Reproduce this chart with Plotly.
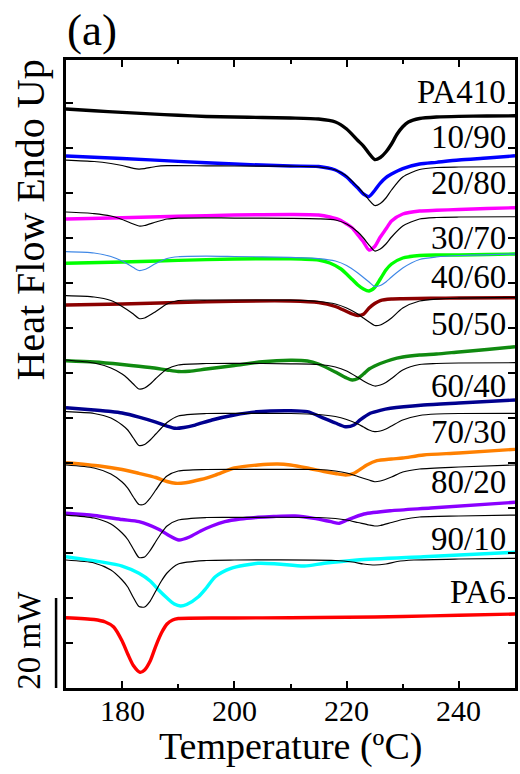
import plotly.graph_objects as go

# ---------------- data (heat flow in mW, vertically offset curves) ----------------
T_pa410 = [170,175,180,185,190,195,200,205,210,215,218,220,222,223,224,225,226,227,228,229,230,231,233,236,240,245,250]
Q_pa410 = [128.67,128.29,127.91,127.58,127.27,127.02,126.89,126.78,126.67,126.44,125.78,124.22,121.67,120.44,118.78,117.44,117.89,119.11,120.89,123.11,124.73,125.78,126.56,126.89,127.04,127.11,127.16]

T_1090 = [170,180,190,200,210,215,218,219,220,221,222,223,224,225,226,227,228,230,233,236,240,245,250]
Q_1090 = [118.22,117.67,117.04,116.44,116.0,115.89,115.11,114.44,113.56,112.33,111.11,109.78,109.22,110.56,112.22,113.44,114.22,115.44,116.44,116.82,117.33,117.78,118.27]
T_1090r = [170,175,178,180,182,183,184,186,188,195,200,210,215,218,220,222,223,224,225,226,227,228,230,233,236,240,250]
Q_1090r = [117.33,117.0,116.56,116.11,115.49,115.33,115.44,115.89,116.07,116.04,116.0,115.96,115.78,115.11,113.78,111.33,110.0,108.44,107.22,107.67,108.89,110.67,113.56,115.22,115.67,115.78,115.84]

T_2080 = [170,180,190,200,210,215,217,219,220,221,222,223,224,225,226,227,228,230,233,236,240,245,250]
Q_2080 = [104.22,104.51,104.84,105.11,105.22,105.11,104.67,103.89,103.11,102.22,100.67,99.11,97.33,98.11,100.22,102.0,103.78,105.33,106.0,106.16,106.33,106.56,106.73]
T_2080r = [170,175,178,180,182,183,184,186,188,190,195,200,210,215,218,220,222,223,224,225,226,227,228,230,233,236,240,250]
Q_2080r = [105.78,105.44,104.89,104.11,103.11,102.67,102.78,103.56,104.22,104.44,104.49,104.44,104.38,104.27,104.0,103.11,101.33,100.0,98.44,97.11,97.56,98.67,100.22,102.67,104.22,104.56,104.67,104.73]

T_3070 = [170,180,190,200,210,215,217,219,220,221,222,223,224,225,226,227,228,230,233,236,240,245,250]
Q_3070 = [94.38,94.67,95.02,95.33,95.38,95.11,94.44,93.11,92.0,90.78,89.56,88.67,88.22,89.0,90.89,92.89,94.22,95.56,96.11,96.22,96.22,96.33,96.44]
T_3070r = [170,175,178,180,182,183,184,186,188,190,195,200,210,215,218,220,222,223,224,225,226,227,228,230,233,236,240,250]
Q_3070r = [96.96,96.67,95.89,94.89,93.44,92.78,93.0,94.33,95.44,95.84,95.96,95.89,95.71,95.44,94.89,93.89,92.22,91.22,90.22,89.22,89.44,90.22,91.33,93.33,95.22,95.78,96.11,96.44]

T_4060 = [170,180,190,200,210,215,218,220,221,222,223,224,225,226,228,230,235,240,250]
Q_4060 = [85.11,85.33,85.67,85.96,86.0,85.67,84.78,83.67,83.11,82.78,83.04,84.44,85.44,86.11,86.44,86.51,86.6,86.67,86.73]
T_4060r = [170,175,178,180,182,183,184,186,188,190,195,200,210,215,218,220,222,223,224,225,226,227,228,230,233,236,240,250]
Q_4060r = [87.18,86.89,86.11,84.78,83.11,82.11,82.22,83.67,85.33,86.11,86.22,86.22,86.18,85.89,85.33,84.44,83.11,82.22,81.33,80.56,80.67,81.33,82.22,84.44,86.0,86.44,86.62,86.82]

T_5050 = [170,175,180,185,188,190,192,195,200,205,210,213,215,218,220,221,222,223,224,225,226,228,230,233,236,240,245,250]
Q_5050 = [72.73,72.44,71.89,71.22,70.67,70.33,70.38,70.89,71.67,72.51,72.82,72.67,72.0,70.22,68.89,68.44,68.78,69.78,70.89,71.56,72.11,73.0,73.56,74.0,74.22,74.67,75.22,75.84]
T_5050r = [170,175,178,180,181,182,183,184,185,186,188,190,195,200,210,215,218,220,222,223,224,225,226,227,228,230,233,236,240,250]
Q_5050r = [72.89,72.22,71.11,69.78,68.78,67.56,66.44,66.67,67.56,68.78,70.89,71.78,72.11,72.16,72.04,71.89,71.33,70.44,69.0,68.22,67.56,67.11,67.33,67.89,68.78,70.67,71.89,72.11,72.22,72.29]

T_6040 = [170,175,178,180,183,186,188,189.5,191,193,196,200,204,210,213,216,218,219.8,221.3,222.4,224.2,226,227.8,233.7,240,250]
Q_6040 = [62.29,61.78,61.44,61.11,60.22,59.11,58.22,57.71,57.89,58.44,59.56,60.67,61.38,61.62,61.4,59.93,58.89,58.07,58.44,59.56,61.04,61.71,62.16,62.89,63.33,64.0]
T_6040r = [170,175,178,180,181,182,183,184,185,186,187,188,190,195,200,210,215,218,220,222,223,224,225,226,227,228,230,233,236,240,250]
Q_6040r = [61.4,61.0,60.0,58.44,57.33,55.56,53.89,54.11,55.11,56.44,57.78,59.0,60.44,61.0,61.04,61.0,60.78,60.33,59.67,58.67,58.0,57.33,56.96,57.11,57.56,58.22,59.56,60.56,60.89,61.0,61.04]

T_7030 = [170,176,180,183,186,188,189.5,191.3,194,196.6,200,204.2,207.7,210,213,216,218,219.8,221.3,223.6,225.4,228,230,233.7,240,250]
Q_7030 = [50.07,49.33,48.56,47.71,46.78,45.89,45.49,45.62,46.33,47.33,48.89,49.56,49.78,49.56,48.89,48.11,47.67,47.33,47.71,49.56,50.51,50.89,51.11,51.78,52.22,53.04]
T_7030r = [170,175,178,180,181,182,183,184,185,186,187,188,190,195,200,210,215,218,220,222,224,225,226,228,230,233,240,250]
Q_7030r = [49.56,48.89,47.56,45.78,44.44,42.44,40.78,40.89,42.22,44.0,45.78,47.11,48.22,48.56,48.6,48.6,48.56,48.22,47.78,47.0,46.22,45.84,46.0,46.89,48.0,48.67,49.11,49.56]

T_8020 = [170,175,180,183,186.5,188.5,190.1,192,194,196,198.3,201,204.2,207,210.8,214.2,217.2,218.7,220.1,223.1,227.8,235,250]
Q_8020 = [38.82,38.33,37.44,36.96,35.27,33.78,32.89,33.56,34.89,36.0,36.96,37.56,37.93,38.11,38.22,37.71,36.96,36.6,37.33,38.67,39.4,40.0,41.27]
T_8020r = [170,175,178,180,181,182,183,184,185,186,187,188,190,195,200,215,218,220,222,224,225,226,228,230,233,240,250]
Q_8020r = [38.44,37.78,36.44,34.44,33.0,30.89,29.0,29.11,30.56,32.56,34.44,36.0,37.33,37.89,37.93,37.89,37.67,37.33,36.78,36.22,36.0,36.11,36.78,37.44,38.0,38.22,38.44]

T_9010 = [170,176,180,183,185,186.5,188,189.3,190.4,191.5,193.6,195,196.6,199.4,204.2,207.7,212.5,216,221.9,233.7,250]
Q_9010 = [29.18,28.07,27.11,25.49,23.78,21.78,20.0,18.67,18.22,18.56,20.29,22.22,24.73,26.6,27.71,27.56,27.11,27.71,28.44,29.18,30.16]
T_9010r = [170,175,178,180,181,182,183,184,185,186,187,188,190,195,200,218,221,223,225,227,229,232,240,250]
Q_9010r = [28.44,27.78,26.22,24.0,22.44,20.11,18.11,18.0,19.33,21.56,23.78,25.56,27.56,28.33,28.44,28.33,28.0,27.56,27.33,27.56,28.11,28.44,28.67,28.82]

T_pa6 = [170,175,177,178.5,180,181,182,183.2,184,185,186,187,188,189,190,200,210,220,230,240,250]
Q_pa6 = [15.62,15.22,14.67,13.56,10.44,7.56,5.0,3.49,4.0,6.0,9.33,12.22,14.22,15.11,15.44,15.56,15.62,15.71,15.89,16.16,16.44]

sample_names = ["PA410", "10/90", "20/80", "30/70", "40/60", "50/50",
                "60/40", "70/30", "80/20", "90/10", "PA6"]
label_y = [132.4, 122.4, 112.2, 100.0, 91.3, 80.9, 67.1, 57.0, 45.7, 33.1, 21.4]
x_ticks = [180, 200, 220, 240]
scale_bar_mW = 20

# ---------------- figure ----------------
FONT = "Liberation Serif"
fig = go.Figure()

thick = [
    (T_pa410, Q_pa410, "#000000"),
    (T_1090, Q_1090, "#0000ff"),
    (T_2080, Q_2080, "#ff00ff"),
    (T_3070, Q_3070, "#00ff00"),
    (T_4060, Q_4060, "#8b0000"),
    (T_5050, Q_5050, "#108a10"),
    (T_6040, Q_6040, "#00008f"),
    (T_7030, Q_7030, "#ff8000"),
    (T_8020, Q_8020, "#8a00ff"),
    (T_9010, Q_9010, "#00ffff"),
    (T_pa6, Q_pa6, "#ff0000"),
]
thin = [
    (T_1090r, Q_1090r, "#000000"),
    (T_2080r, Q_2080r, "#000000"),
    (T_3070r, Q_3070r, "#3f88e6"),
    (T_4060r, Q_4060r, "#000000"),
    (T_5050r, Q_5050r, "#000000"),
    (T_6040r, Q_6040r, "#000000"),
    (T_7030r, Q_7030r, "#000000"),
    (T_8020r, Q_8020r, "#000000"),
    (T_9010r, Q_9010r, "#000000"),
]
for t, q, c in thick:
    fig.add_trace(go.Scatter(x=t, y=q, mode="lines",
                             line=dict(color=c, width=3.4, shape="spline", smoothing=0.7),
                             showlegend=False, hoverinfo="skip"))
for t, q, c in thin:
    fig.add_trace(go.Scatter(x=t, y=q, mode="lines",
                             line=dict(color=c, width=1.2, shape="spline", smoothing=0.7),
                             showlegend=False, hoverinfo="skip"))

annotations = []
for name, yv in zip(sample_names, label_y):
    annotations.append(dict(x=248.7, y=yv, xref="x", yref="y", text=name, showarrow=False,
                            xanchor="right", yanchor="middle",
                            font=dict(family=FONT, size=33, color="black")))

# x tick labels placed at the axis tick values
for xv in x_ticks:
    annotations.append(dict(x=xv, y=-0.0366, xref="x", yref="paper", text=str(xv),
                            showarrow=False, xanchor="center", yanchor="middle",
                            font=dict(family=FONT, size=30, color="black")))

annotations += [
    dict(x=-0.0796, y=0.745, xref="paper", yref="paper", text="Heat Flow Endo Up",
         textangle=-90, showarrow=False, xanchor="center", yanchor="middle",
         font=dict(family=FONT, size=40, color="black")),
    dict(x=0.5, y=-0.0935, xref="paper", yref="paper", text="Temperature (ºC)",
         showarrow=False, xanchor="center", yanchor="middle",
         font=dict(family=FONT, size=38, color="black")),
    dict(x=0.0575, y=1.0478, xref="paper", yref="paper", text="(a)",
         showarrow=False, xanchor="center", yanchor="middle",
         font=dict(family=FONT, size=45, color="black")),
    dict(x=-0.083, y=0.0764, xref="paper", yref="paper", text="20 mW",
         textangle=-90, showarrow=False, xanchor="center", yanchor="middle",
         font=dict(family=FONT, size=33, color="black")),
]

fig.add_shape(type="line", xref="paper", yref="y", x0=-0.0221, x1=-0.0221,
              y0=0, y1=scale_bar_mW, line=dict(color="black", width=2.5))

fig.update_layout(
    width=520, height=774,
    margin=dict(l=66, r=2, t=60, b=86),
    paper_bgcolor="white", plot_bgcolor="white",
    font=dict(family=FONT),
    annotations=annotations,
    xaxis=dict(range=[170, 250], tickmode="array", tickvals=x_ticks,
               ticks="inside", ticklen=7, tickwidth=2, tickcolor="black",
               minor=dict(tickmode="array", tickvals=[170, 190, 210, 230, 250],
                          ticks="inside", ticklen=4, tickwidth=2, tickcolor="black"),
               showline=True, linewidth=2.5, linecolor="black", mirror="allticks",
               showgrid=False, zeroline=False, showticklabels=False),
    yaxis=dict(range=[0, 139.56], tick0=0, dtick=10,
               ticks="inside", ticklen=7, tickwidth=2, tickcolor="black",
               showticklabels=False,
               showline=True, linewidth=2.5, linecolor="black", mirror="allticks",
               showgrid=False, zeroline=False),
)

fig.write_html("out.html")
